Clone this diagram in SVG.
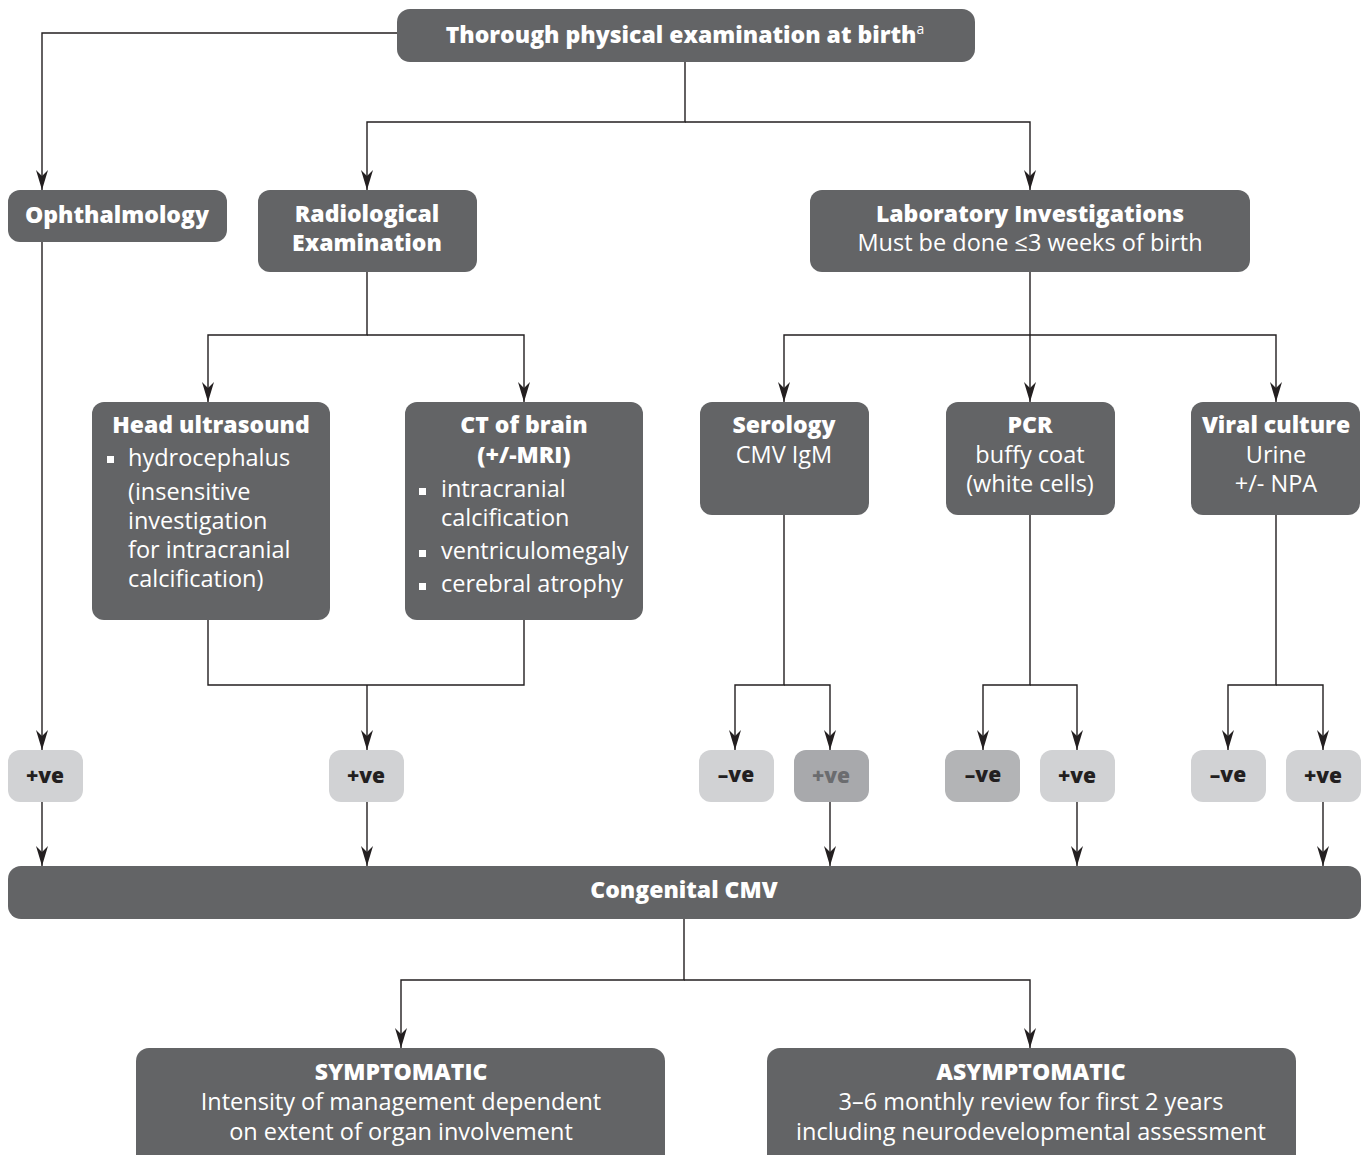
<svg xmlns="http://www.w3.org/2000/svg" width="1368" height="1155" viewBox="0 0 1368 1155">
<defs>
<style>
.box{fill:#636466}
.lbox{fill:#d1d2d4}
.gbox{fill:#b3b4b6}
.mbox{fill:#a8a9ac}
.t{font-family:"Open Sans","DejaVu Sans",sans-serif;font-size:23.5px;fill:#fff;text-anchor:middle}
.b{font-weight:800;font-size:23px}
.l{text-anchor:start}
.s{font-family:"Open Sans","DejaVu Sans",sans-serif;font-size:21px;font-weight:800;fill:#231f20;text-anchor:middle}
.c{fill:none;stroke:#231f20;stroke-width:1.4}
.bul{fill:#fff}
</style>
<marker id="ah" viewBox="0 0 20 12" refX="20" refY="6" markerWidth="20" markerHeight="12" markerUnits="userSpaceOnUse" orient="auto">
<path d="M0,0 L20,6 L0,12 L6,6 z" fill="#231f20"/>
</marker>
</defs>
<rect width="1368" height="1155" fill="#fff"/>

<g id="connectors">
<path class="c" d="M397,33 H42 V190" marker-end="url(#ah)"/>
<path class="c" d="M685,62 V122 H367 V190" marker-end="url(#ah)"/>
<path class="c" d="M685,122 H1030 V190" marker-end="url(#ah)"/>
<path class="c" d="M42,242 V750" marker-end="url(#ah)"/>
<path class="c" d="M367,272 V335 H208 V402" marker-end="url(#ah)"/>
<path class="c" d="M367,335 H524 V402" marker-end="url(#ah)"/>
<path class="c" d="M1030,272 V402" marker-end="url(#ah)"/>
<path class="c" d="M1030,335 H784 V402" marker-end="url(#ah)"/>
<path class="c" d="M1030,335 H1276 V402" marker-end="url(#ah)"/>
<path class="c" d="M208,620 V685 H524 V620"/>
<path class="c" d="M367,685 V750" marker-end="url(#ah)"/>
<path class="c" d="M784,515 V685 H735 V750" marker-end="url(#ah)"/>
<path class="c" d="M784,685 H830 V750" marker-end="url(#ah)"/>
<path class="c" d="M1030,515 V685 H983 V750" marker-end="url(#ah)"/>
<path class="c" d="M1030,685 H1077 V750" marker-end="url(#ah)"/>
<path class="c" d="M1276,515 V685 H1228 V750" marker-end="url(#ah)"/>
<path class="c" d="M1276,685 H1323 V750" marker-end="url(#ah)"/>
<path class="c" d="M42,802 V866" marker-end="url(#ah)"/>
<path class="c" d="M367,802 V866" marker-end="url(#ah)"/>
<path class="c" d="M830,802 V866" marker-end="url(#ah)"/>
<path class="c" d="M1077,802 V866" marker-end="url(#ah)"/>
<path class="c" d="M1323,802 V866" marker-end="url(#ah)"/>
<path class="c" d="M684,919 V980 H401 V1048" marker-end="url(#ah)"/>
<path class="c" d="M684,980 H1030 V1048" marker-end="url(#ah)"/>
</g>

<g id="top">
<rect class="box" x="397" y="9" width="578" height="53" rx="13"/>
<text class="t b" x="685" y="43">Thorough physical examination at birth<tspan font-size="14" font-weight="normal" dy="-9">a</tspan></text>
</g>

<g id="ophthalmology">
<rect class="box" x="8" y="190" width="219" height="52" rx="12"/>
<text class="t b" x="117" y="223">Ophthalmology</text>
</g>

<g id="radiological">
<rect class="box" x="258" y="190" width="219" height="82" rx="12"/>
<text class="t b" x="367" y="222">Radiological</text>
<text class="t b" x="367" y="251">Examination</text>
</g>

<g id="laboratory">
<rect class="box" x="810" y="190" width="440" height="82" rx="12"/>
<text class="t b" x="1030" y="222">Laboratory Investigations</text>
<text class="t" x="1030" y="251">Must be done ≤3 weeks of birth</text>
</g>

<g id="head-ultrasound">
<rect class="box" x="92" y="402" width="238" height="218" rx="12"/>
<text class="t b" x="211" y="433">Head ultrasound</text>
<rect class="bul" x="107" y="456" width="7" height="7"/>
<text class="t l" x="128" y="466">hydrocephalus</text>
<text class="t l" x="128" y="500">(insensitive</text>
<text class="t l" x="128" y="529">investigation</text>
<text class="t l" x="128" y="558">for intracranial</text>
<text class="t l" x="128" y="587">calcification)</text>
</g>

<g id="ct-brain">
<rect class="box" x="405" y="402" width="238" height="218" rx="12"/>
<text class="t b" x="524" y="433">CT of brain</text>
<text class="t b" x="524" y="463">(+/-MRI)</text>
<rect class="bul" x="419" y="488" width="7" height="7"/>
<text class="t l" x="441" y="497">intracranial</text>
<text class="t l" x="441" y="526">calcification</text>
<rect class="bul" x="419" y="550" width="7" height="7"/>
<text class="t l" x="441" y="559">ventriculomegaly</text>
<rect class="bul" x="419" y="583" width="7" height="7"/>
<text class="t l" x="441" y="592">cerebral atrophy</text>
</g>

<g id="serology">
<rect class="box" x="700" y="402" width="169" height="113" rx="12"/>
<text class="t b" x="784" y="433">Serology</text>
<text class="t" x="784" y="463">CMV IgM</text>
</g>

<g id="pcr">
<rect class="box" x="946" y="402" width="169" height="113" rx="12"/>
<text class="t b" x="1030" y="433">PCR</text>
<text class="t" x="1030" y="463">buffy coat</text>
<text class="t" x="1030" y="492">(white cells)</text>
</g>

<g id="viral-culture">
<rect class="box" x="1191" y="402" width="169" height="113" rx="12"/>
<text class="t b" x="1276" y="433">Viral culture</text>
<text class="t" x="1276" y="463">Urine</text>
<text class="t" x="1276" y="492">+/- NPA</text>
</g>

<g id="oph-pos">
<rect class="lbox" x="8" y="750" width="75" height="52" rx="12"/>
<text class="s" x="45" y="783">+ve</text>
</g>
<g id="rad-pos">
<rect class="lbox" x="329" y="750" width="75" height="52" rx="12"/>
<text class="s" x="366" y="783">+ve</text>
</g>
<g id="ser-neg">
<rect class="lbox" x="699" y="750" width="75" height="52" rx="12"/>
<text class="s" x="736" y="782">–ve</text>
</g>
<g id="ser-pos">
<rect class="mbox" x="794" y="750" width="75" height="52" rx="12"/>
<text class="s" x="831" y="783" style="fill:#6b6c6f">+ve</text>
</g>
<g id="pcr-neg">
<rect class="gbox" x="945" y="750" width="75" height="52" rx="12"/>
<text class="s" x="983" y="782">–ve</text>
</g>
<g id="pcr-pos">
<rect class="lbox" x="1040" y="750" width="75" height="52" rx="12"/>
<text class="s" x="1077" y="783">+ve</text>
</g>
<g id="vc-neg">
<rect class="lbox" x="1191" y="750" width="75" height="52" rx="12"/>
<text class="s" x="1228" y="782">–ve</text>
</g>
<g id="vc-pos">
<rect class="lbox" x="1286" y="750" width="75" height="52" rx="12"/>
<text class="s" x="1323" y="783">+ve</text>
</g>

<g id="congenital-cmv">
<rect class="box" x="8" y="866" width="1353" height="53" rx="13"/>
<text class="t b" x="684" y="898">Congenital CMV</text>
</g>

<g id="symptomatic">
<rect class="box" x="136" y="1048" width="529" height="120" rx="13"/>
<text class="t b" x="401" y="1080">SYMPTOMATIC</text>
<text class="t" x="401" y="1110">Intensity of management dependent</text>
<text class="t" x="401" y="1140">on extent of organ involvement</text>
</g>

<g id="asymptomatic">
<rect class="box" x="767" y="1048" width="529" height="120" rx="13"/>
<text class="t b" x="1031" y="1080">ASYMPTOMATIC</text>
<text class="t" x="1031" y="1110">3–6 monthly review for first 2 years</text>
<text class="t" x="1031" y="1140">including neurodevelopmental assessment</text>
</g>
</svg>
